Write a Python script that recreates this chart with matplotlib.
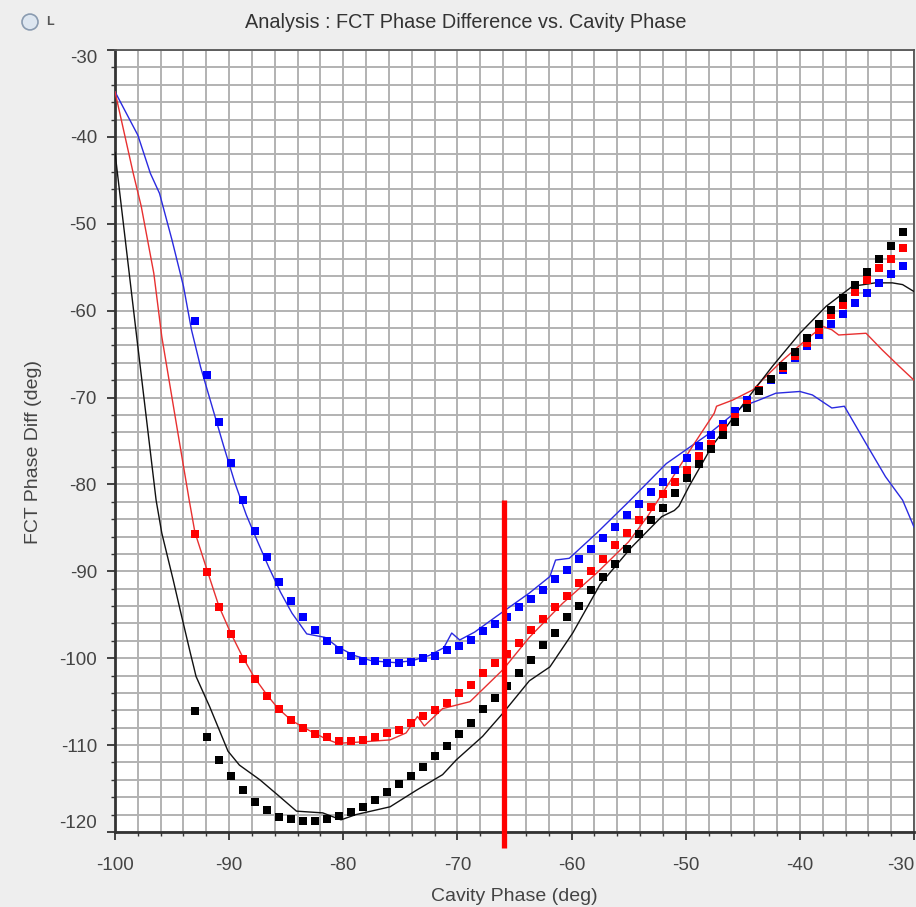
import matplotlib
matplotlib.use("Agg")
import matplotlib.pyplot as plt
from matplotlib.ticker import MultipleLocator
from matplotlib.patches import Circle

plt.rcParams['font.family'] = ['Liberation Sans Narrow', 'Liberation Sans', 'DejaVu Sans']

# ---- measured points (one per cavity phase step) ----
scan_phase = [-93.00, -91.95, -90.90, -89.85, -88.80, -87.75, -86.69, -85.64, -84.59, -83.54,
              -82.49, -81.44, -80.39, -79.34, -78.29, -77.24, -76.19, -75.14, -74.08, -73.03,
              -71.98, -70.93, -69.88, -68.83, -67.78, -66.73, -65.68, -64.63, -63.58, -62.53,
              -61.47, -60.42, -59.37, -58.32, -57.27, -56.22, -55.17, -54.12, -53.07, -52.02,
              -50.97, -49.92, -48.86, -47.81, -46.76, -45.71, -44.66, -43.61, -42.56, -41.51,
              -40.46, -39.41, -38.36, -37.31, -36.25, -35.20, -34.15, -33.10, -32.05, -31.00]

meas_blue = [-61.2, -67.4, -72.8, -77.5, -81.8, -85.4, -88.4, -91.2, -93.4, -95.3,
             -96.7, -98.0, -99.0, -99.7, -100.3, -100.3, -100.6, -100.6, -100.4, -100.0,
             -99.7, -99.1, -98.6, -97.9, -96.9, -96.1, -95.2, -94.1, -93.2, -92.1,
             -90.9, -89.8, -88.6, -87.4, -86.2, -84.9, -83.5, -82.2, -80.9, -79.7,
             -78.3, -77.0, -75.6, -74.3, -73.0, -71.5, -70.3, -69.1, -68.0, -66.8,
             -65.5, -64.1, -62.8, -61.5, -60.4, -59.1, -58.0, -56.8, -55.8, -54.9]

meas_red = [-85.7, -90.1, -94.1, -97.2, -100.1, -102.4, -104.3, -105.8, -107.1, -108.0,
            -108.7, -109.1, -109.5, -109.5, -109.4, -109.1, -108.6, -108.3, -107.5, -106.7,
            -106.0, -105.1, -104.0, -103.1, -101.7, -100.5, -99.5, -98.2, -96.8, -95.5,
            -94.1, -92.8, -91.4, -90.0, -88.6, -87.0, -85.6, -84.1, -82.6, -81.1,
            -79.7, -78.3, -76.7, -75.3, -73.5, -72.2, -70.7, -69.1, -67.9, -66.6,
            -65.2, -63.7, -62.2, -60.5, -59.3, -57.9, -56.5, -55.1, -54.05, -52.8]

meas_black = [-106.1, -109.1, -111.7, -113.6, -115.2, -116.5, -117.5, -118.3, -118.5, -118.7,
              -118.7, -118.5, -118.2, -117.7, -117.1, -116.3, -115.4, -114.5, -113.6, -112.5,
              -111.3, -110.1, -108.7, -107.4, -105.9, -104.6, -103.2, -101.7, -100.2, -98.5,
              -97.1, -95.3, -94.0, -92.2, -90.7, -89.1, -87.4, -85.7, -84.1, -82.7,
              -81.0, -79.3, -77.6, -75.9, -74.3, -72.8, -71.2, -69.2, -67.9, -66.4,
              -64.7, -63.2, -61.5, -59.9, -58.5, -57.0, -55.6, -54.05, -52.6, -51.0]

# ---- model curves ----
model_blue_x = [-100, -98.0, -96.9, -96.1, -95.0, -94.0, -93.3, -92.5, -91.5, -90.5,
                -89.5, -88.5, -87.5, -86.5, -85.5, -84.5, -83.2, -81.6, -80.5, -79.0,
                -77.5, -75.5, -74.0, -72.5, -71.2, -70.5, -69.8, -68.5, -66.6, -63.7,
                -61.9, -61.4, -60.2, -57.8, -55.0, -51.7, -47.9, -45.0, -43.6, -42.1,
                -40.0, -38.9, -37.2, -36.1, -34.2, -32.5, -31.0, -30.0]
model_blue_y = [-34.8, -39.8, -44.2, -46.5, -51.9, -57.2, -62.2, -66.5, -71.0, -75.5,
                -79.8, -83.5, -86.6, -89.6, -92.4, -94.8, -97.2, -97.6, -98.7, -99.7,
                -100.3, -100.5, -100.3, -99.7, -98.8, -97.1, -97.9, -97.0, -95.2, -92.5,
                -90.6, -88.7, -88.5, -85.6, -82.0, -77.6, -74.1, -71.0, -70.3, -69.5,
                -69.3, -69.7, -71.2, -71.0, -75.3, -79.1, -81.8, -84.9]

model_red_x = [-100, -98.4, -97.7, -96.6, -95.9, -94.5, -93.5, -93.0, -91.9, -90.9,
               -89.9, -88.8, -87.8, -86.7, -85.7, -84.5, -83.0, -81.5, -80.5, -78.0,
               -75.9, -74.5, -73.5, -72.9, -71.3, -68.9, -67.8, -66.0, -63.7, -60.8,
               -57.8, -55.0, -53.3, -49.4, -47.5, -47.3, -45.9, -44.1, -43.3, -41.5,
               -39.5, -38.0, -37.2, -36.6, -34.2, -32.8, -31.3, -30.0]
model_red_y = [-34.8, -44.2, -48.0, -55.7, -63.0, -74.0, -81.8, -85.5, -90.0, -94.0,
               -97.0, -99.9, -102.2, -104.2, -105.8, -107.2, -108.3, -109.3, -109.8, -109.6,
               -109.4, -108.6, -106.7, -107.8, -105.8, -105.0, -103.6, -101.3, -97.6, -93.7,
               -90.2, -86.6, -83.6, -75.6, -71.8, -71.0, -70.3, -69.1, -68.0, -65.7,
               -63.4, -61.8, -62.2, -62.8, -62.6, -64.5, -66.4, -68.0]

model_black_x = [-100, -98.1, -96.4, -95.9, -94.9, -94.3, -93.4, -93.1, -92.9, -91.7,
                 -90.1, -89.1, -87.3, -85.6, -84.1, -81.8, -80.2, -78.9, -75.9, -73.6,
                 -71.3, -70.1, -67.8, -66.0, -63.7, -61.9, -59.9, -57.5, -54.8, -52.1,
                 -51.0, -50.6, -49.7, -47.7, -44.7, -42.4, -40.0, -37.7, -35.4, -33.4,
                 -31.9, -31.0, -30.0]
model_black_y = [-41.8, -63.0, -81.8, -85.6, -91.0, -94.4, -99.4, -101.0, -102.1, -105.6,
                 -110.7, -112.3, -114.0, -115.9, -117.6, -117.8, -118.6, -118.0, -117.1, -115.2,
                 -113.4, -111.7, -109.0, -106.3, -102.6, -101.0, -97.1, -91.5, -87.3, -83.7,
                 -83.0, -82.5, -80.2, -75.6, -70.3, -66.4, -62.6, -59.5, -57.2, -56.8,
                 -56.8, -57.0, -57.8]

# operating-point cursor
cursor_phase = -65.9
cursor_span = [-81.8, -121.8]

x_ticks = [-100, -90, -80, -70, -60, -50, -40, -30]
y_ticks = [-30, -40, -50, -60, -70, -80, -90, -100, -110, -120]

W, H = 916, 907
fig = plt.figure(figsize=(W / 100, H / 100), dpi=100, facecolor='#eeeeee')
ax = fig.add_axes([115 / W, 1 - 832 / H, (914 - 115) / W, (832 - 50) / H])
ax.set_facecolor('white')

ax.set_xlim(-100, -30)
ax.set_ylim(-120, -30)
ax.xaxis.set_major_locator(MultipleLocator(10))
ax.xaxis.set_minor_locator(MultipleLocator(2))
ax.yaxis.set_major_locator(MultipleLocator(10))
ax.yaxis.set_minor_locator(MultipleLocator(2))
ax.grid(True, which='both', color='#b2b2b2', linewidth=1.4)
ax.set_axisbelow(True)

for sp in ['top', 'right']:
    ax.spines[sp].set_color('#555555')
    ax.spines[sp].set_linewidth(1.3)
for sp in ['left', 'bottom']:
    ax.spines[sp].set_color('#333333')
    ax.spines[sp].set_linewidth(2.0)

ax.tick_params(which='major', direction='out', length=6, width=1.3, color='#333333',
               labelsize=13.5, labelcolor='#444444')
ax.tick_params(which='minor', direction='out', length=3, width=1.0, color='#333333')
ax.tick_params(axis='y', which='major', pad=7)
ax.tick_params(axis='x', which='major', pad=12)

# model curves (thin lines)
ax.plot(model_blue_x, model_blue_y, color='#2a2ae0', lw=1.0, zorder=3)
ax.plot(model_red_x, model_red_y, color='#e83030', lw=1.0, zorder=3)
ax.plot(model_black_x, model_black_y, color='#111111', lw=1.0, zorder=3)

# measured points (square markers)
ms = 6.2
ax.plot(scan_phase, meas_blue, 's', color='#0000ff', ms=ms, mew=0, zorder=4)
ax.plot(scan_phase, meas_red, 's', color='#ff0000', ms=ms, mew=0, zorder=4)
ax.plot(scan_phase, meas_black, 's', color='#000000', ms=ms, mew=0, zorder=4)

# cursor line
ax.plot([cursor_phase, cursor_phase], cursor_span, color='#ff0000', lw=3.8,
        solid_capstyle='butt', clip_on=False, zorder=6)

ax.set_xticks(x_ticks)
ax.set_yticks(y_ticks)
ax.set_xticklabels([str(v) for v in x_ticks])
ax.set_yticklabels([str(v) for v in y_ticks])
ylabels = ax.get_yticklabels()
ylabels[0].set_va('top')
ylabels[-1].set_va('bottom')
xlabels = ax.get_xticklabels()
xlabels[-1].set_ha('right')

ax.set_xlabel('Cavity Phase (deg)', fontsize=14, color='#444444', labelpad=10)
ax.set_ylabel('FCT Phase Diff (deg)', fontsize=14, color='#444444')
ax.yaxis.set_label_coords(-0.091, 0.486)

fig.text(466 / W, 1 - 22 / H, 'Analysis : FCT Phase Difference vs. Cavity Phase',
         ha='center', va='center', fontsize=14.3, color='#333333')

# small radio button at the top-left corner
fig.patches.append(Circle((30 / W, 1 - 22 / H), 8 / W, transform=fig.transFigure,
                          facecolor='#dde6f0', edgecolor='#8a9bb0', lw=1.2))
fig.text(46 / W, 1 - 22 / H, 'L', ha='left', va='center', fontsize=9,
         fontweight='bold', color='#555555')

fig.savefig('out.png', dpi=100, facecolor=fig.get_facecolor())
